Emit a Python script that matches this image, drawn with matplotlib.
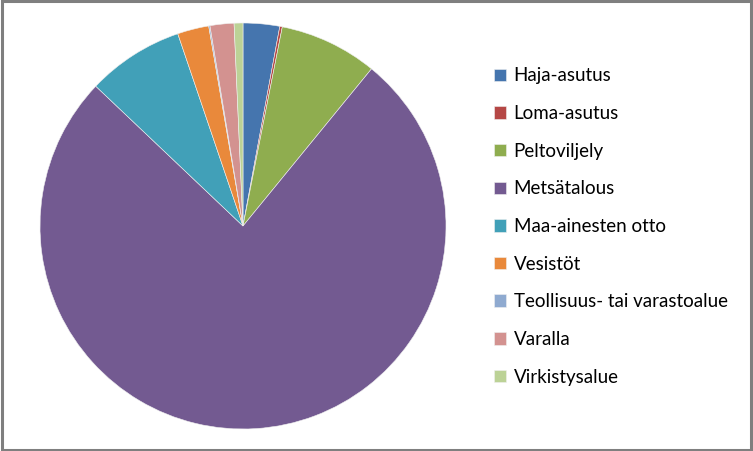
import matplotlib.pyplot as plt
from matplotlib.patches import Rectangle

plt.rcParams['font.family'] = ['Lato', 'DejaVu Sans']

labels = ['Haja-asutus', 'Loma-asutus', 'Peltoviljely', 'Metsätalous',
          'Maa-ainesten otto', 'Vesistöt', 'Teollisuus- tai varastoalue',
          'Varalla', 'Virkistysalue']
shares = [2.9, 0.2, 7.8, 76.1, 7.7, 2.5, 0.1, 1.9, 0.7]
colors = ['#4575AE', '#B54745', '#8FAD4F', '#735A91', '#41A0B8',
          '#E9893B', '#8FAAD0', '#D39290', '#BCD296']

fig = plt.figure(figsize=(7.53, 4.51), dpi=100)
fig.patch.set_facecolor('white')

# pie occupies a square centred at (243, 226) px with radius 203 px
W, H = 753, 451
cx, cy, r = 243, 226, 203
ax = fig.add_axes([(cx - r) / W, (H - cy - r) / H, 2 * r / W, 2 * r / H])
wedges, _ = ax.pie(shares, colors=colors, startangle=90, counterclock=False,
                   radius=1.0, wedgeprops=dict(linewidth=0.4, edgecolor='#f0f0f0'))
ax.set_xlim(-1, 1)
ax.set_ylim(-1, 1)
ax.set_aspect('equal')
ax.axis('off')

# legend
leg = fig.legend(wedges, labels, loc='upper left',
                 bbox_to_anchor=(486 / W, 1 - 60 / H),
                 frameon=False, fontsize=13.5, handlelength=0.65,
                 handleheight=0.65, handletextpad=0.42, labelspacing=1.1,
                 borderaxespad=0)
for t in leg.get_texts():
    t.set_color('#000000')

# outer frame
fig.add_artist(Rectangle((0.002, 0.003), 0.995, 0.994, transform=fig.transFigure,
                         fill=False, edgecolor='#7f7f7f', linewidth=2.2))

fig.savefig('out.png', dpi=100)
